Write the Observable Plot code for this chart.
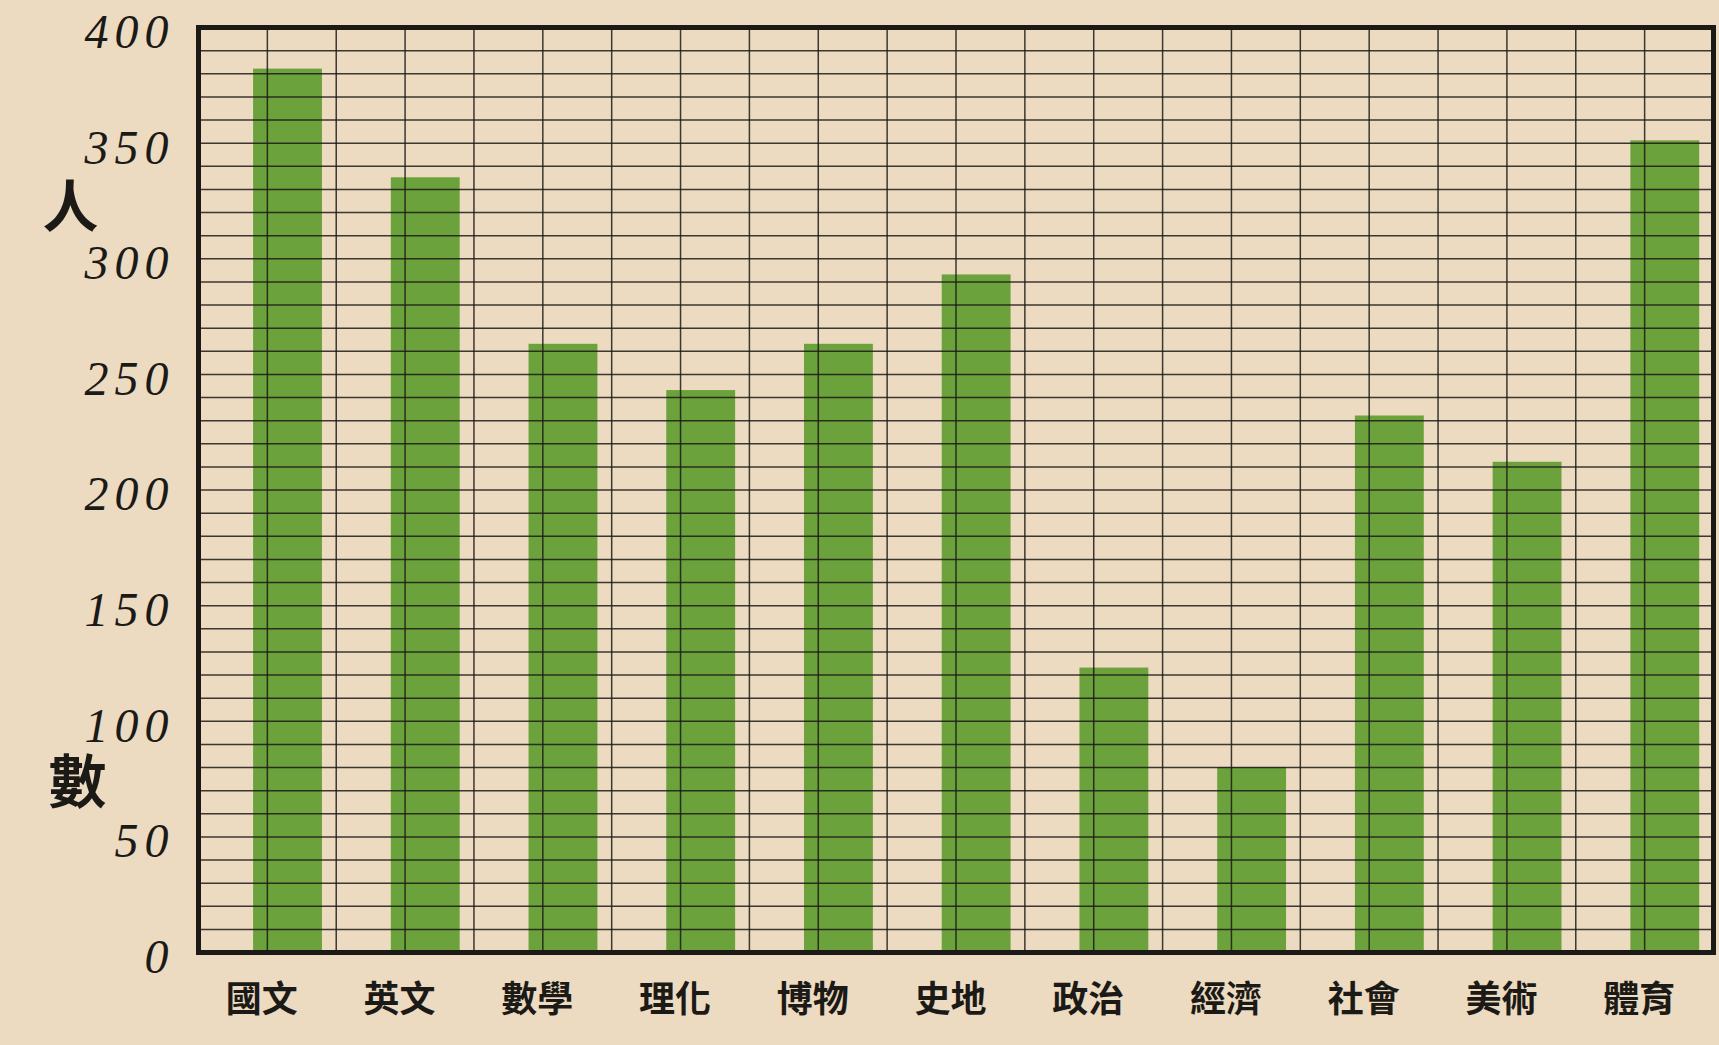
<!DOCTYPE html>
<html>
<head>
<meta charset="utf-8">
<script src="https://cdn.jsdelivr.net/npm/d3@7"></script>
<script src="https://cdn.jsdelivr.net/npm/@observablehq/plot@0.6"></script>
<style>
  html, body { margin: 0; padding: 0; background: #ecdbc1; }
  #chart svg { display: block; background: #ecdbc1; }
</style>
</head>
<body>
<div id="chart"></div>
<script>
// ---- data ----
const subjects = ["國文", "英文", "數學", "理化", "博物", "史地", "政治", "經濟", "社會", "美術", "體育"];
const counts   = [382, 335, 263, 243, 263, 293, 123, 80, 232, 212, 351];
const yTicks   = [0, 50, 100, 150, 200, 250, 300, 350, 400];
const yLabelChars = ["人", "數"];

// table for the library (each subject spans two grid columns)
const table = subjects.map((s, i) => ({subject: s, count: counts[i], slot: 2 * i}));
const hGrid = d3.range(10, 400, 10);
const vGrid = d3.range(1, 2 * subjects.length, 1);

const green = "#6ca23b";
const ink = "#1c1a17";

const chart = Plot.plot({
  width: 1719,
  height: 1045,
  marginLeft: 198,
  marginRight: 6,
  marginTop: 27,
  marginBottom: 93,
  style: {background: "#ecdbc1", color: ink},
  x: {domain: [0, 2 * subjects.length]},
  y: {domain: [0, 400]},
  marks: [
    Plot.rectY(table, {
      x1: d => d.slot + 0.8,
      x2: d => d.slot + 1.8,
      y1: 0,
      y2: "count",
      fill: green
    }),
    Plot.ruleY(hGrid, {stroke: ink, strokeWidth: 1.5, strokeOpacity: 0.85}),
    Plot.ruleX(vGrid, {stroke: ink, strokeWidth: 1.5, strokeOpacity: 0.85}),
    Plot.frame({stroke: ink, strokeWidth: 5}),
    Plot.axisY({
      ticks: yTicks,
      tickSize: 0,
      tickPadding: 24,
      dy: 5,
      label: null,
      fontSize: 48,
      fontFamily: "Liberation Serif",
      fontStyle: "italic",
      fill: ink
    }),
    Plot.axisX({
      ticks: subjects.map((s, i) => 2 * i + 0.92),
      tickFormat: d => subjects[Math.round((d - 0.92) / 2)],
      tickSize: 0,
      tickPadding: 34,
      label: null,
      fontSize: 36,
      fontWeight: 600,
      fontFamily: "Noto Sans CJK TC",
      fill: ink
    }),
    Plot.text([yLabelChars[0]], {
      frameAnchor: "top-left",
      lineAnchor: "middle",
      dx: -156,
      dy: 182,
      fontSize: 56,
      fontWeight: 700,
      fontFamily: "Noto Sans CJK TC",
      fill: ink
    }),
    Plot.text([yLabelChars[1]], {
      frameAnchor: "bottom-left",
      lineAnchor: "middle",
      dx: -150,
      dy: -168,
      fontSize: 58,
      fontWeight: 700,
      fontFamily: "Noto Sans CJK TC",
      fill: ink
    })
  ]
});
chart.querySelectorAll("g[aria-label='y-axis tick label'] text").forEach(t => t.style.letterSpacing = "6px");
document.getElementById("chart").appendChild(chart);
</script>
</body>
</html>
